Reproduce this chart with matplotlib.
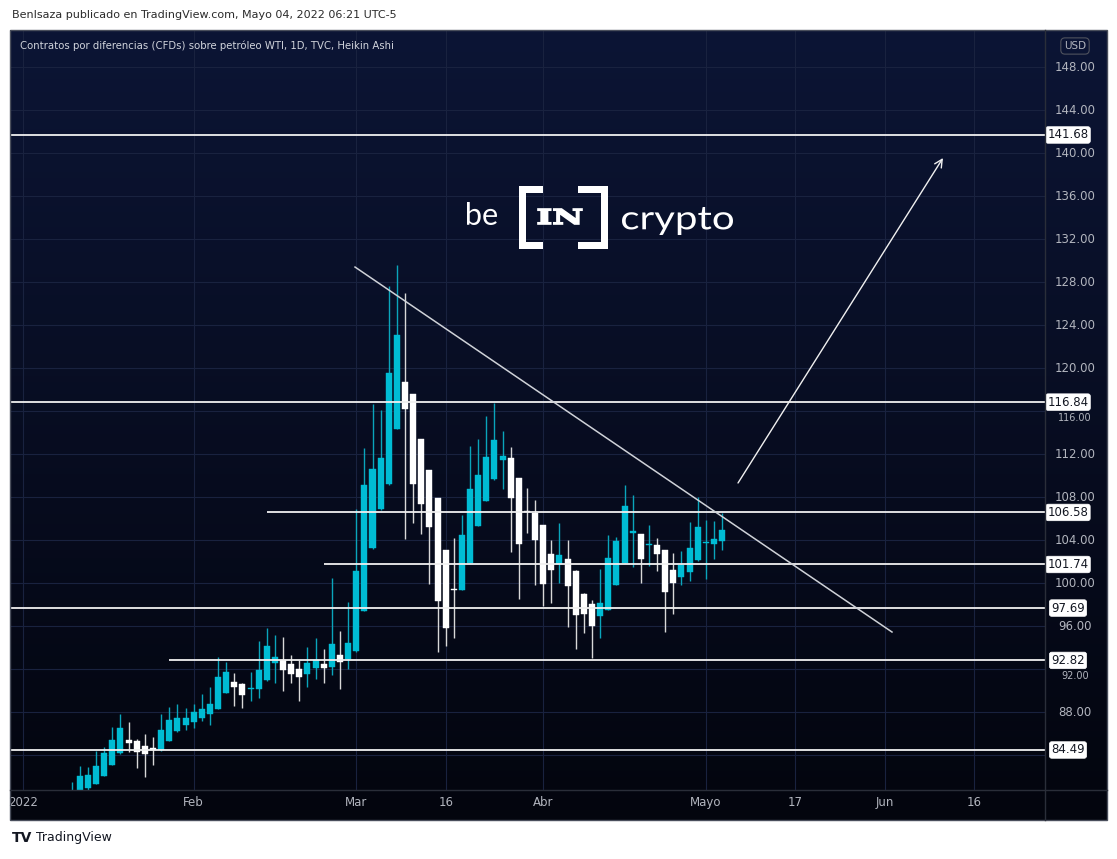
import numpy as np
import matplotlib
matplotlib.use("Agg")
import matplotlib.pyplot as plt
from matplotlib.textpath import TextPath
from matplotlib.patches import PathPatch, Rectangle
from matplotlib.font_manager import FontProperties
from matplotlib.transforms import Affine2D
from matplotlib.colors import to_rgb

# ---------------- data (Heikin Ashi daily candles, WTI CFD) ----------------
opens = [80.0, 80.6, 81.0, 81.37, 82.11, 83.14, 84.17, 85.45, 85.29, 84.86,
         84.62, 84.45, 85.32, 86.26, 86.79, 87.1, 87.50, 87.81, 88.34, 89.81,
         90.81, 90.59, 90.12, 90.12, 90.96, 92.55, 92.86, 92.46, 92.05, 91.58,
         92.08, 92.46, 92.24, 93.33, 92.96, 93.70, 97.44, 103.24, 106.88, 109.19,
         114.36, 118.72, 117.57, 113.39, 110.50, 107.88, 103.08, 99.45, 99.40, 101.90,
         105.32, 107.63, 109.68, 111.49, 111.65, 109.75, 106.7, 106.57, 105.39, 102.68,
         101.83, 102.27, 101.12, 99.03, 98.10, 96.98, 97.54, 99.87, 101.90, 104.67,
         104.55, 103.52, 103.52, 103.08, 101.21, 100.56, 101.06, 102.12, 103.70, 103.67,
         103.92]
highs = [81.55, 83.02, 82.89, 84.39, 84.76, 86.63, 87.88, 87.10, 85.54, 86.01,
         85.70, 87.88, 88.50, 88.81, 88.44, 88.81, 89.68, 90.37, 93.11, 92.71,
         91.68, 90.7, 91.71, 94.64, 95.82, 95.20, 94.98, 93.33, 92.86, 94.05,
         94.89, 93.86, 100.49, 95.60, 98.22, 106.88, 112.58, 116.66, 116.13, 127.66,
         129.56, 126.97, 117.6, 113.4, 110.5, 107.9, 103.1, 104.23, 106.32, 112.80,
         113.42, 115.51, 116.76, 114.14, 112.68, 109.8, 108.81, 107.75, 105.4, 103.98,
         105.64, 104.01, 101.2, 99.1, 98.4, 101.34, 104.45, 104.33, 109.16, 108.22,
         104.6, 105.39, 104.23, 103.1, 102.77, 103.02, 105.70, 107.97, 105.89, 105.79,
         106.57]
lows = [79.5, 80.3, 80.8, 81.3, 82.1, 83.1, 84.1, 84.30, 82.83, 82.02,
        83.05, 84.4, 85.3, 86.2, 86.35, 86.57, 87.19, 86.85, 88.3, 89.8,
        88.56, 88.44, 89.06, 89.28, 90.9, 90.74, 89.99, 90.68, 89.06, 90.31,
        91.05, 90.74, 91.46, 90.12, 91.99, 93.6, 97.4, 103.2, 106.8, 109.1,
        114.3, 104.08, 105.64, 104.61, 99.93, 93.58, 94.20, 94.95, 99.4, 101.9,
        105.3, 107.6, 109.6, 108.75, 102.92, 98.56, 104.70, 99.81, 97.91, 98.16,
        100.03, 95.89, 93.86, 95.36, 93.02, 94.89, 97.5, 99.8, 101.9, 101.49,
        100.03, 101.59, 101.18, 95.42, 97.16, 99.87, 100.18, 102.1, 100.40, 102.21,
        103.05]
closes = [80.7, 82.08, 82.18, 83.02, 84.23, 85.39, 86.57, 85.14, 84.29, 84.08,
          84.52, 86.35, 87.25, 87.47, 87.47, 88.0, 88.31, 88.81, 91.30, 91.71,
          90.31, 89.59, 90.21, 91.93, 94.17, 93.17, 91.90, 91.58, 91.27, 92.55,
          92.86, 92.11, 94.36, 92.64, 94.42, 101.12, 109.12, 110.62, 111.65, 119.56,
          123.08, 116.23, 109.19, 107.41, 105.23, 98.38, 95.88, 99.35, 104.45, 108.75,
          110.06, 111.74, 113.30, 111.87, 107.94, 103.67, 106.6, 103.98, 99.93, 101.27,
          102.58, 99.78, 97.01, 97.16, 96.04, 98.16, 102.36, 103.92, 107.19, 104.86,
          102.27, 103.64, 102.74, 99.16, 100.03, 101.65, 103.30, 105.26, 103.86, 104.14,
          104.95]

# x-axis: trading-day index (0 = first visible bar, mid-January 2022)
date_labels = ["2022", "Feb", "Mar", "16", "Abr", "Mayo", "17", "Jun", "16"]
date_index = [-6, 15, 35, 46, 58, 78, 89, 100, 111]

price_ticks = [88, 92, 96, 100, 104, 108, 112, 116, 120, 124, 128, 132, 136, 140, 144, 148]

# horizontal support / resistance levels and the bar index where each starts
levels = [141.68, 116.84, 106.58, 101.74, 97.69, 92.82, 84.49]
level_start = [-8, -8, 24, 31, -8, 12, -8]

# descending trend line and projected breakout arrow (bar index, price)
trend_x = [34.85, 100.9]
trend_y = [129.40, 95.46]
arrow_from = (81.96, 109.32)
arrow_to = (107.17, 139.54)

header = "BenIsaza publicado en TradingView.com, Mayo 04, 2022 06:21 UTC-5"
title = "Contratos por diferencias (CFDs) sobre petróleo WTI, 1D, TVC, Heikin Ashi"

# ---------------- figure ----------------
W, H = 1117, 859
fig = plt.figure(figsize=(W / 100, H / 100), dpi=100, facecolor="white")


def fbox(x0, y0, x1, y1):
    return [x0 / W, 1 - y1 / H, (x1 - x0) / W, (y1 - y0) / H]


# gradient background panel
ax_bg = fig.add_axes(fbox(10, 30, 1107, 820), zorder=0)
top_c = np.array(to_rgb("#0c1535"))
bot_c = np.array(to_rgb("#03050e"))
t = np.linspace(0, 1, 256)[:, None, None]
grad = top_c[None, None, :] * (1 - t) + bot_c[None, None, :] * t
ax_bg.imshow(grad, aspect="auto", extent=[0, 1, 0, 1], origin="upper")
ax_bg.axis("off")

# main chart axes
ax = fig.add_axes(fbox(10, 31, 1045, 790), zorder=1)
ax.set_facecolor("none")
ax.set_xlim(-7.59, 119.72)
ax.set_ylim(80.77, 151.35)
for s in ax.spines.values():
    s.set_visible(False)
ax.set_xticks(date_index)
ax.set_yticks([84] + price_ticks)
ax.tick_params(length=0, labelbottom=False, labelleft=False)
ax.grid(True, color="#19223f", lw=0.8)
ax.set_axisbelow(True)

# candles
xs = np.arange(len(opens))
o = np.array(opens); c = np.array(closes); hi = np.array(highs); lo = np.array(lows)
up = c >= o
body_col = np.where(up, "#00bcd4", "#ffffff")
wick_col = np.where(up, "#0aa5bb", "#d8d8d8")
ax.vlines(xs, lo, hi, colors=wick_col, lw=1.0, zorder=3)
heights = np.maximum(np.abs(c - o), 0.15)
ax.bar(xs, heights, bottom=np.minimum(o, c), width=0.74, color=body_col,
       edgecolor=body_col, lw=0.3, zorder=4)

# levels
xr = ax.get_xlim()[1]
for lv, st in zip(levels, level_start):
    ax.hlines(lv, st, xr, color="#f0f0f0", lw=1.3, zorder=5)

# trend line & arrow
ax.plot(trend_x, trend_y, color="#cfd2d8", lw=1.1, zorder=6)
ax.annotate("", xy=arrow_to, xytext=arrow_from,
            arrowprops=dict(arrowstyle="->", color="#f0f0f0", lw=1.0,
                            mutation_scale=14, shrinkA=0, shrinkB=0), zorder=6)

# price axis labels; a tick that sits under a level box is nudged just below it
ytr = ax.get_yaxis_transform()
for p in price_ticks:
    nearest = min(levels, key=lambda lv: abs(lv - p))
    if abs(nearest - p) < 1.0:
        ax.text(1.029, nearest - 1.45, f"{p:.2f}", transform=ytr, ha="center", va="center",
                color="#b2b5be", fontsize=7, clip_on=False, zorder=7)
    else:
        ax.text(1.029, p, f"{p:.2f}", transform=ytr, ha="center", va="center",
                color="#b2b5be", fontsize=8.5, clip_on=False, zorder=7)
for lv in levels:
    ax.text(1.0222, lv, f"{lv:.2f}", transform=ytr, ha="center", va="center",
            color="#131722", fontsize=8.5, clip_on=False, zorder=9,
            bbox=dict(boxstyle="round,pad=0.15,rounding_size=0.2", fc="white",
                      ec="white", lw=0.5))

# date labels
xtr = ax.get_xaxis_transform()
for lab, idx in zip(date_labels, date_index):
    ax.text(idx, -0.0171, lab, transform=xtr, ha="center", va="center",
            color="#b2b5be", fontsize=8.5, clip_on=False)

# overlay in pixel coordinates
ov = fig.add_axes([0, 0, 1, 1], zorder=2)
ov.set_xlim(0, W)
ov.set_ylim(H, 0)
ov.axis("off")
ov.patch.set_visible(False)

ov.add_patch(Rectangle((10, 30), 1097, 790, fill=False, ec="#4a4f5c", lw=1.0))
ov.plot([1045, 1045], [30, 820], color="#2a2e39", lw=1.0)
ov.plot([10, 1107], [790, 790], color="#2a2e39", lw=1.0)

ov.text(12, 15, header, color="#2b2b2b", fontsize=8, va="center", ha="left")
ov.text(20, 46, title, color="#d1d4dc", fontsize=7.3, va="center", ha="left")
ov.text(1075, 46, "USD", color="#b2b5be", fontsize=7.5, va="center", ha="center",
        bbox=dict(boxstyle="round,pad=0.3,rounding_size=0.4", fc="none", ec="#50535e", lw=0.8))

ov.text(12, 838, "TV", color="#131722", fontsize=10, fontweight="bold", va="center", ha="left")
ov.text(36, 838, "TradingView", color="#131722", fontsize=9, va="center", ha="left")


def fit_text(s, x0, x1, y0, y1, prop, color, stroke=0.0):
    tp = TextPath((0, 0), s, size=100, prop=prop)
    ext = tp.get_extents()
    sx = (x1 - x0) / ext.width
    sy = (y1 - y0) / ext.height
    tr = Affine2D().translate(-ext.x0, -ext.y1).scale(sx, -sy).translate(x0, y0)
    ov.add_patch(PathPatch(tr.transform_path(tp), fc=color, ec=color, lw=stroke))


reg = FontProperties(family="Lato", weight="normal")
fit_text("be", 467, 497, 202, 225, reg, "white")
fit_text("crypto", 622, 733, 207, 235, reg, "white")
fit_text("IN", 538, 582, 209, 224, FontProperties(family="DejaVu Serif", weight="bold"), "white", 1.2)
# brackets
for (bx, sx0, sx1) in [(519, 519, 543), (600.5, 578, 607.5)]:
    ov.add_patch(Rectangle((bx, 186), 7, 63, fc="white", ec="none"))
    ov.add_patch(Rectangle((sx0, 186), sx1 - sx0, 7, fc="white", ec="none"))
    ov.add_patch(Rectangle((sx0, 242), sx1 - sx0, 7, fc="white", ec="none"))

fig.savefig("out.png", dpi=100, facecolor="white")
